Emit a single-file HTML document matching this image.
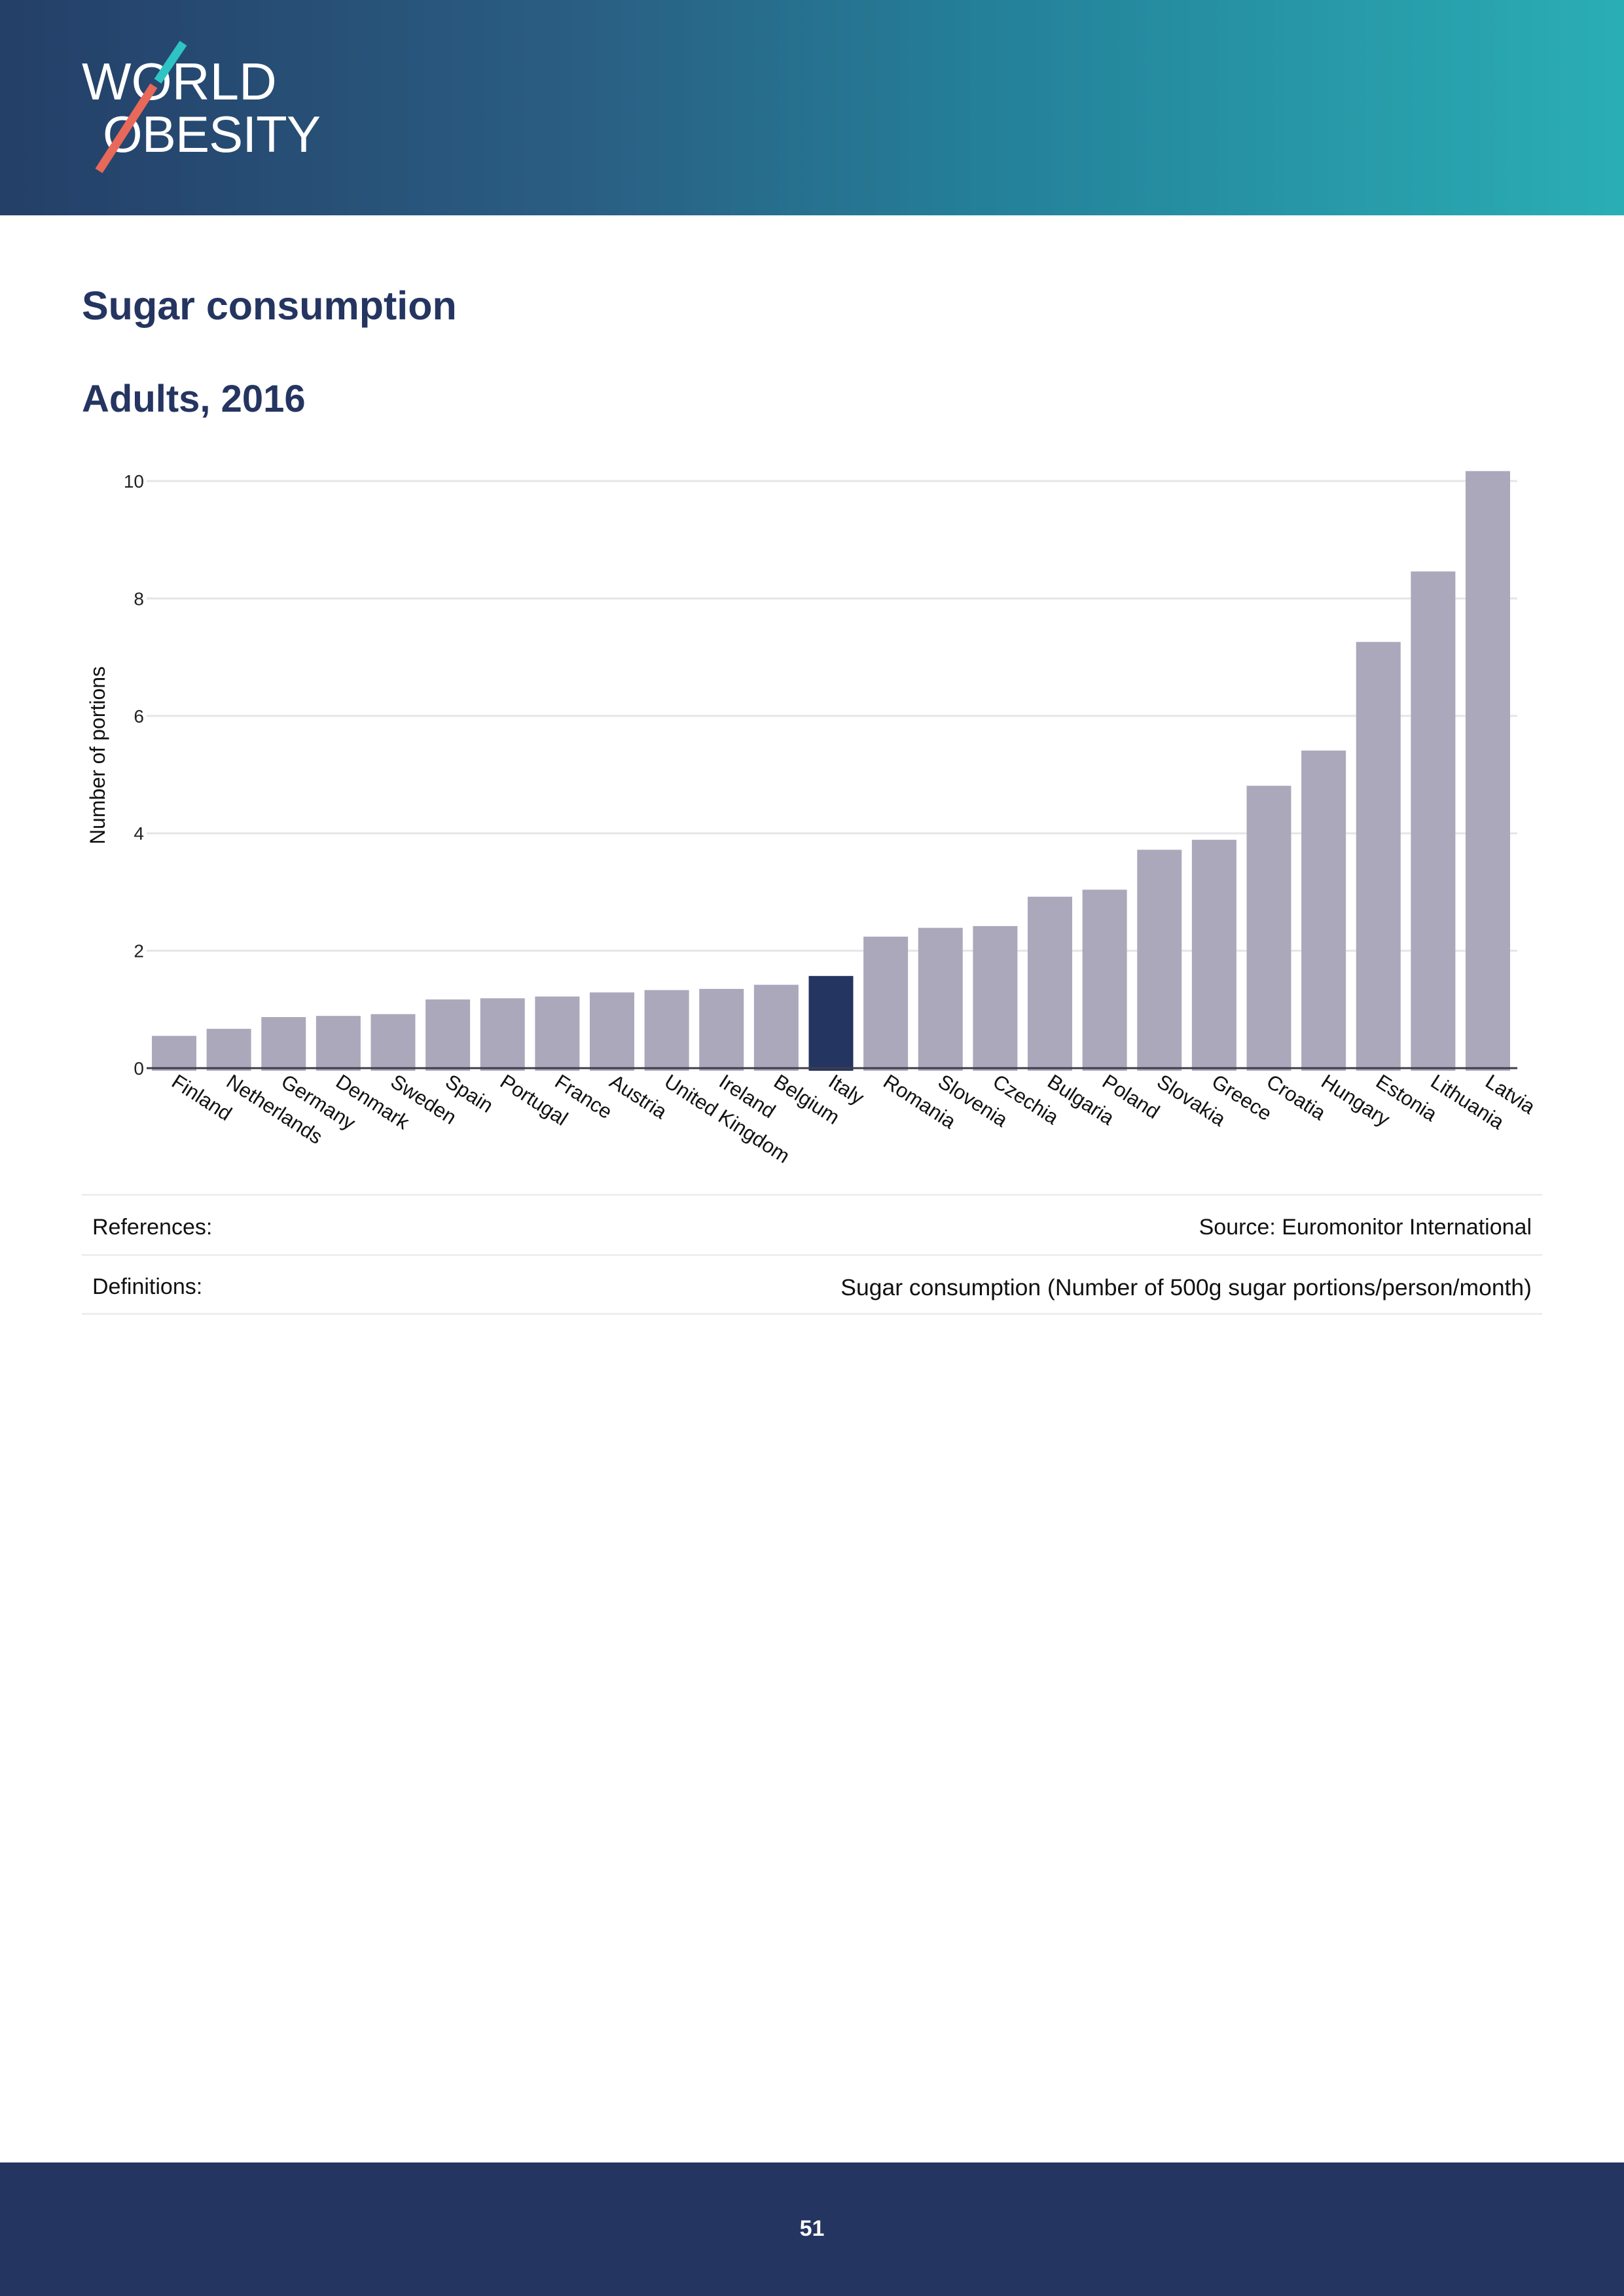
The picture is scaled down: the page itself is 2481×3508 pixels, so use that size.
<!DOCTYPE html>
<html><head><meta charset="utf-8">
<style>
html,body{margin:0;padding:0;background:#fff;}
body{width:2481px;height:3508px;position:relative;overflow:hidden;font-family:"Liberation Sans",sans-serif;}
#header{position:absolute;left:0;top:0;width:2481px;height:329px;background:linear-gradient(90deg,#243f68 0%,#2a5d82 35%,#247f98 60%,#2aaeb5 100%);}
.t{position:absolute;color:#253561;font-weight:bold;white-space:nowrap;}
#footer{position:absolute;left:0;top:3304px;width:2481px;height:204px;background:#253561;}
.row{position:absolute;left:125px;width:2231px;border-top:3px solid #eceef1;}
.cell{position:absolute;font-size:34px;color:#111;white-space:nowrap;}
</style></head><body>
<div id="header">
<svg width="2481" height="329">
<text x="125" y="152" font-family="Liberation Sans, sans-serif" font-size="80" fill="#fff" font-weight="500">WORLD</text>
<text x="157" y="232" font-family="Liberation Sans, sans-serif" font-size="78" fill="#fff" font-weight="500" textLength="333">OBESITY</text>
<line x1="280" y1="66" x2="241" y2="124" stroke="#2ec4c4" stroke-width="13"/>
<line x1="235" y1="131" x2="151" y2="261" stroke="#e8685a" stroke-width="13"/>
</svg>
</div>
<div class="t" style="left:125px;top:432px;font-size:61px;">Sugar consumption</div>
<div class="t" style="left:125px;top:576px;font-size:58px;">Adults, 2016</div>
<svg id="chart" width="2481" height="1200" style="position:absolute;left:0;top:650px"></svg>
<div class="row" style="top:1824px"></div>
<div class="row" style="top:1916px"></div>
<div class="row" style="top:2006px"></div>
<div class="cell" style="left:141px;top:1856px">References:</div>
<div class="cell" style="right:141px;top:1856px">Source: Euromonitor International</div>
<div class="cell" style="left:141px;top:1947px">Definitions:</div>
<div class="cell" style="right:141px;top:1947px;font-size:35.5px">Sugar consumption (Number of 500g sugar portions/person/month)</div>
<div id="footer">
<div style="position:absolute;left:0;width:2481px;top:82px;text-align:center;color:#fff;font-weight:bold;font-size:34px;">51</div>
</div>
<script>
const categories=["Finland","Netherlands","Germany","Denmark","Sweden","Spain","Portugal","France","Austria","United Kingdom","Ireland","Belgium","Italy","Romania","Slovenia","Czechia","Bulgaria","Poland","Slovakia","Greece","Croatia","Hungary","Estonia","Lithuania","Latvia"];
const values=[0.55,0.67,0.87,0.89,0.92,1.17,1.19,1.22,1.29,1.33,1.35,1.42,1.57,2.24,2.39,2.42,2.92,3.04,3.72,3.89,4.81,5.41,7.26,8.46,10.17];
const highlighted=["Italy"];
const yTicks=[0,2,4,6,8,10];
const yTickLabels=["0","2","4","6","8","10"];
const NS="http://www.w3.org/2000/svg";
const svg=document.getElementById('chart');
const OY=650;
const y0=1632-OY, yPer=89.7;
const yScale=v=>y0-v*yPer;
const x0=266, step=(2273-266)/24, bw=68;
const xScale=i=>x0+i*step;
function mk(t,a){const e=document.createElementNS(NS,t);for(const k in a)e.setAttribute(k,a[k]);svg.appendChild(e);return e;}
yTicks.forEach((v,i)=>{
  const g=mk('line',{x1:224,x2:2318,y1:yScale(v),y2:yScale(v),stroke:'#e6e6e9','stroke-width':3});
  
  
  const t=mk('text',{x:220,y:yScale(v)+10,'text-anchor':'end','font-size':28,fill:'#222','font-family':'Liberation Sans, sans-serif'});
  t.textContent=yTickLabels[i];
  
  
});
categories.forEach((c,i)=>{
  const cx=xScale(i), top=yScale(values[i]);
  const r=mk('rect',{x:cx-bw/2,y:top,width:bw,height:y0+4-top,fill:highlighted.includes(c)?'#253561':'#aba8bb'});
  
  
  const t=mk('text',{x:cx-6,y:y0+26,'font-size':31,fill:'#111','font-family':'Liberation Sans, sans-serif',transform:`rotate(33 ${cx-6} ${y0+26})`});
  t.textContent=c;
  
  
});
const ax=mk('line',{x1:224,x2:2318,y1:y0,y2:y0,stroke:'#3d3d4d','stroke-width':3});


const yt=mk('text',{x:160,y:y0-478,'text-anchor':'middle','font-size':32,fill:'#111','font-family':'Liberation Sans, sans-serif',transform:`rotate(-90 160 ${y0-478})`});
yt.textContent='Number of portions';


</script>
</body></html>
